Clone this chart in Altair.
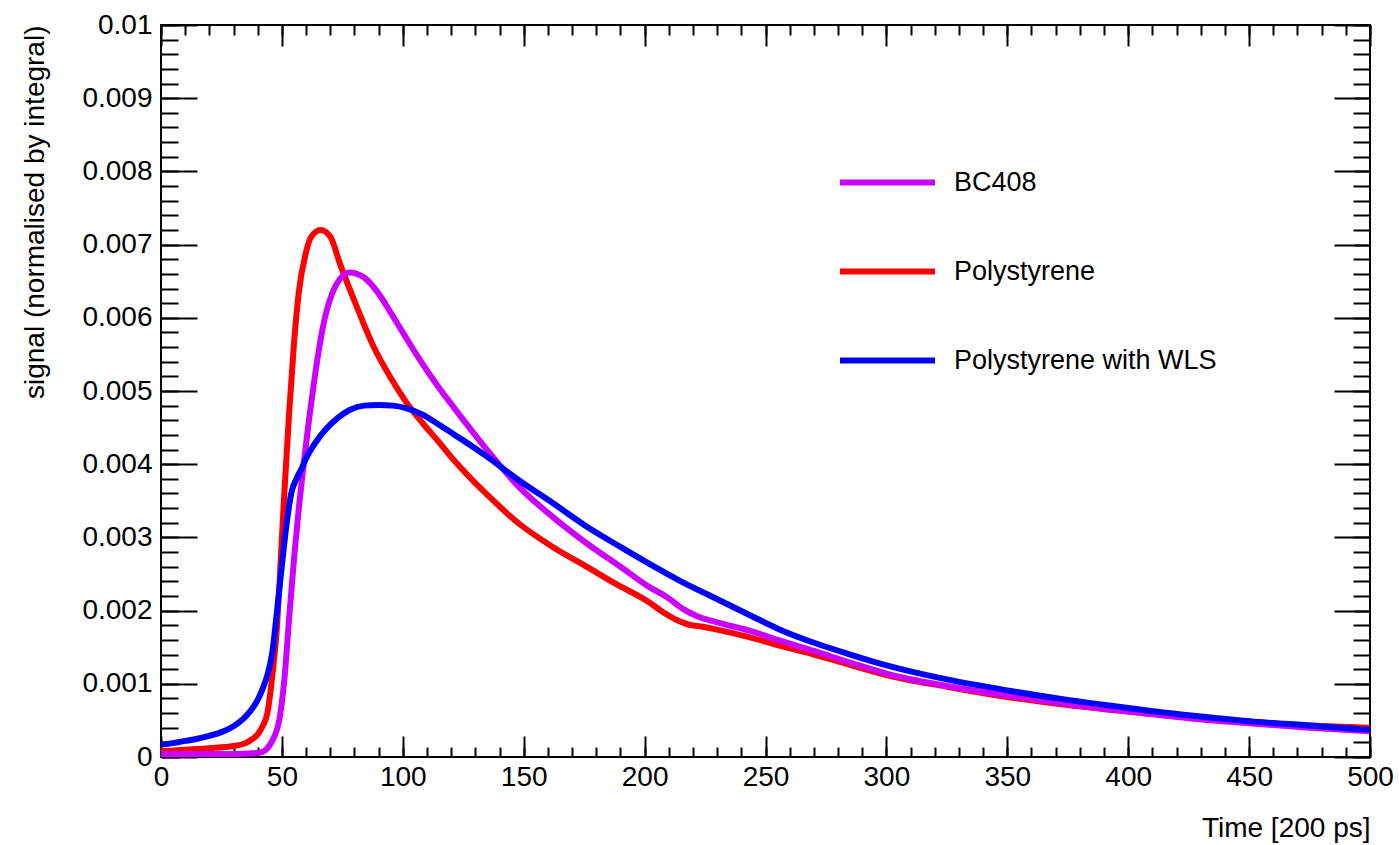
import altair as alt
import pandas as pd

# ---- data (signal values in units of 1e-3) ----
bc408_t = [0, 10, 20, 30, 38, 42, 44, 46, 48, 49, 50, 51, 53, 55, 57, 59, 61, 63, 65, 67,
           71, 74, 78, 84, 90, 95, 100, 107, 114, 121, 128, 135, 148, 162, 176, 190, 202,
           209, 216, 222, 230, 244, 256, 270, 285, 300, 325, 350, 375, 400, 425, 450,
           475, 500]
bc408_v = [0.04, 0.04, 0.04, 0.04, 0.05, 0.07, 0.12, 0.22, 0.38, 0.52, 0.75, 1.05, 1.90,
           2.70, 3.40, 4.00, 4.55, 5.05, 5.50, 5.88, 6.35, 6.53, 6.62, 6.55, 6.33, 6.07,
           5.80, 5.43, 5.09, 4.78, 4.48, 4.19, 3.69, 3.28, 2.92, 2.60, 2.32, 2.19, 2.02,
           1.92, 1.84, 1.72, 1.59, 1.45, 1.29, 1.14, 0.97, 0.84, 0.72, 0.62, 0.53, 0.46,
           0.40, 0.35]

poly_t = [0, 10, 20, 30, 35, 38, 40, 42, 44, 46, 48, 49, 50, 51, 53, 55, 57, 60, 62, 66,
          70, 74, 81, 88, 95, 102, 108, 115, 121, 128, 135, 148, 162, 176, 190, 198, 202,
          208, 214, 218, 224, 230, 244, 257, 270, 285, 300, 325, 350, 375, 400, 425, 450,
          475, 500]
poly_v = [0.08, 0.10, 0.12, 0.15, 0.19, 0.25, 0.31, 0.42, 0.60, 1.10, 1.80, 2.35, 3.00,
          3.60, 4.70, 5.65, 6.35, 6.90, 7.10, 7.20, 7.11, 6.74, 6.15, 5.60, 5.18, 4.82,
          4.57, 4.30, 4.06, 3.81, 3.58, 3.19, 2.87, 2.60, 2.33, 2.19, 2.11, 1.97, 1.86,
          1.81, 1.78, 1.74, 1.63, 1.51, 1.40, 1.26, 1.12, 0.96, 0.82, 0.71, 0.62, 0.54,
          0.48, 0.43, 0.40]

wls_t = [0, 5, 10, 15, 20, 25, 30, 34, 37, 40, 42, 44, 46, 48, 50, 52, 54, 56, 58, 60,
         64, 68, 73, 78, 84, 90, 96, 102, 108, 115, 121, 128, 135, 148, 162, 176, 190,
         204, 215, 228, 244, 256, 271, 285, 297, 310, 325, 350, 375, 400, 425, 450,
         475, 500]
wls_v = [0.17, 0.19, 0.22, 0.25, 0.29, 0.34, 0.42, 0.52, 0.63, 0.78, 0.93, 1.12, 1.42,
         2.00, 2.62, 3.20, 3.62, 3.80, 3.93, 4.08, 4.30, 4.47, 4.63, 4.74, 4.80, 4.81,
         4.80, 4.76, 4.68, 4.54, 4.41, 4.26, 4.10, 3.78, 3.47, 3.15, 2.87, 2.60, 2.40,
         2.19, 1.93, 1.74, 1.55, 1.40, 1.28, 1.17, 1.06, 0.91, 0.78, 0.67, 0.57, 0.49,
         0.43, 0.37]

series_names = ["BC408", "Polystyrene", "Polystyrene with WLS"]
series_colors = ["#cc00ff", "#ff0000", "#0000ff"]

x_major = list(range(0, 501, 50))
x_minor = list(range(0, 501, 10))
y_major = [i / 1000 for i in range(0, 11)]
y_minor = [i / 5000 for i in range(0, 51)]

# drawing order: red, violet, blue (blue on top)
rows = []
for name, ts, vs in [("Polystyrene", poly_t, poly_v),
                     ("BC408", bc408_t, bc408_v),
                     ("Polystyrene with WLS", wls_t, wls_v)]:
    for t, v in zip(ts, vs):
        rows.append({"series": name, "t": t, "signal": v * 1e-3})
df = pd.DataFrame(rows)

W, H = 1209, 732
FONT = "Liberation Sans"
xscale = alt.Scale(domain=[0, 500], nice=False, zero=False)
yscale = alt.Scale(domain=[0, 0.01], nice=False, zero=False)

lines = alt.Chart(df).mark_line(strokeWidth=6, interpolate="monotone").encode(
    x=alt.X("t:Q", scale=xscale, axis=alt.Axis(
        values=x_major, format="d", ticks=False, domain=False, grid=False,
        labelPadding=6, labelFontSize=28, labelFont=FONT, labelColor="black",
        labelFlush=False,
        title="Time [200 ps]", titleFontSize=28, titleFont=FONT,
        titleFontWeight="normal", titleColor="black", titleAlign="right",
        titleBaseline="alphabetic", titleX=W, titleY=79)),
    y=alt.Y("signal:Q", scale=yscale, axis=alt.Axis(
        values=y_major, format=".3~f", ticks=False, domain=False, grid=False,
        labelPadding=9, labelFontSize=28, labelFont=FONT, labelColor="black",
        labelFlush=False,
        title="signal (normalised by integral)", titleFontSize=28, titleFont=FONT,
        titleFontWeight="normal", titleColor="black", titleAngle=270,
        titleAlign="right", titleBaseline="middle", titleX=-126, titleY=0)),
    color=alt.Color("series:N",
                    scale=alt.Scale(domain=series_names, range=series_colors),
                    legend=alt.Legend(title=None, orient="none", legendX=676,
                                      legendY=107, symbolType="stroke",
                                      symbolSize=9025, symbolStrokeWidth=6,
                                      labelFontSize=27, labelFont=FONT,
                                      labelColor="black", labelOffset=16,
                                      labelLimit=1000, rowPadding=25, padding=0)),
)


def x_ticks(vals, size, orient):
    return alt.Chart(df).mark_point(opacity=0).encode(
        x=alt.X("t:Q", scale=xscale, title=None, axis=alt.Axis(
            orient=orient, offset=-H, values=vals, tickSize=size, tickWidth=2,
            tickColor="black", labels=False, domain=False, grid=False)))


def y_ticks(vals, size, orient):
    return alt.Chart(df).mark_point(opacity=0).encode(
        y=alt.Y("signal:Q", scale=yscale, title=None, axis=alt.Axis(
            orient=orient, offset=-W, values=vals, tickSize=size, tickWidth=2,
            tickColor="black", labels=False, domain=False, grid=False)))


chart = alt.layer(
    lines,
    x_ticks(x_minor, 10, "top"),
    x_ticks(x_major, 21, "top"),
    x_ticks(x_minor, 10, "bottom"),
    x_ticks(x_major, 21, "bottom"),
    y_ticks(y_minor, 17, "right"),
    y_ticks(y_major, 36, "right"),
    y_ticks(y_minor, 17, "left"),
    y_ticks(y_major, 36, "left"),
).resolve_axis(
    x="independent", y="independent"
).properties(
    width=W, height=H,
    autosize=alt.AutoSizeParams(type="none"),
    padding={"left": 161, "top": 25, "right": 29, "bottom": 88},
    background="white",
).configure_view(
    stroke="black", strokeWidth=2
)

chart.save("out.html", embed_options={"renderer": "svg", "actions": False})
